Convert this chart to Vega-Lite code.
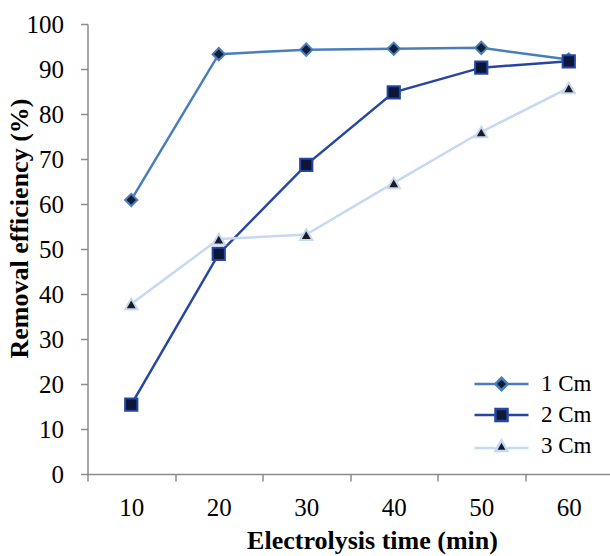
{
  "$schema": "https://vega.github.io/schema/vega-lite/v6.json",
  "width": 525,
  "height": 450,
  "autosize": {"type": "none"},
  "padding": {"left": 87.5, "top": 24, "right": 0, "bottom": 82},
  "background": "white",
  "config": {
    "view": {"stroke": null},
    "font": "Liberation Serif",
    "axis": {
      "labelFont": "Liberation Serif",
      "titleFont": "Liberation Serif",
      "labelFontSize": 25,
      "titleFontSize": 26,
      "titleFontWeight": "bold",
      "labelColor": "#000000",
      "titleColor": "#000000",
      "domainColor": "#8c8c8c",
      "tickColor": "#8c8c8c",
      "domainWidth": 1.5,
      "tickWidth": 1.5,
      "tickSize": 7,
      "grid": false
    },
    "legend": {
      "title": null,
      "orient": "none",
      "legendX": 402.5,
      "legendY": 348.5,
      "padding": 0,
      "labelFont": "Liberation Serif",
      "labelFontSize": 23,
      "labelColor": "#000000",
      "labelOffset": 28,
      "rowPadding": 7,
      "symbolSize": 100,
      "symbolFillColor": "#0e1a36",
      "symbolStrokeWidth": 2.5,
      "symbolOpacity": 1
    }
  },
  "data": {
    "values": [
      {"series": "1 Cm", "time": 10, "value": 60.9},
      {"series": "1 Cm", "time": 20, "value": 93.3},
      {"series": "1 Cm", "time": 30, "value": 94.3},
      {"series": "1 Cm", "time": 40, "value": 94.5},
      {"series": "1 Cm", "time": 50, "value": 94.7},
      {"series": "1 Cm", "time": 60, "value": 92.1},
      {"series": "2 Cm", "time": 10, "value": 15.4},
      {"series": "2 Cm", "time": 20, "value": 48.9},
      {"series": "2 Cm", "time": 30, "value": 68.7},
      {"series": "2 Cm", "time": 40, "value": 84.8},
      {"series": "2 Cm", "time": 50, "value": 90.3},
      {"series": "2 Cm", "time": 60, "value": 91.7},
      {"series": "3 Cm", "time": 10, "value": 37.8},
      {"series": "3 Cm", "time": 20, "value": 52.2},
      {"series": "3 Cm", "time": 30, "value": 53.2},
      {"series": "3 Cm", "time": 40, "value": 64.7},
      {"series": "3 Cm", "time": 50, "value": 76.0},
      {"series": "3 Cm", "time": 60, "value": 85.8}
    ]
  },
  "encoding": {
    "x": {
      "field": "time",
      "type": "ordinal",
      "scale": {"type": "band", "paddingInner": 0, "paddingOuter": 0},
      "axis": {
        "title": "Electrolysis time (min)",
        "labelFont": "Liberation Serif",
        "labelFontSize": 25,
        "labelAngle": 0,
        "tickBand": "extent",
        "labelPadding": 14,
        "titlePadding": 7,
        "titleX": 284.5
      }
    },
    "y": {
      "field": "value",
      "type": "quantitative",
      "scale": {"domain": [0, 100], "nice": false},
      "axis": {
        "title": "Removal efficiency (%)",
        "labelFont": "Liberation Serif",
        "labelFontSize": 25,
        "values": [0, 10, 20, 30, 40, 50, 60, 70, 80, 90, 100],
        "labelPadding": 17,
        "titleX": -54.8,
        "titleY": 204
      }
    }
  },
  "layer": [
    {
      "mark": {"type": "line", "strokeWidth": 2.5},
      "encoding": {
        "stroke": {
          "field": "series",
          "type": "nominal",
          "scale": {"domain": ["1 Cm", "2 Cm", "3 Cm"], "range": ["#4a7ebb", "#2646a3", "#c6d9f1"]},
          "legend": null
        }
      }
    },
    {
      "mark": {"type": "point", "filled": false, "opacity": 1, "strokeWidth": 2},
      "encoding": {
        "stroke": {
          "field": "series",
          "type": "nominal",
          "scale": {"domain": ["1 Cm", "2 Cm", "3 Cm"], "range": ["#4a7ebb", "#2646a3", "#c6d9f1"]},
          "legend": null
        },
        "shape": {
          "field": "series",
          "type": "nominal",
          "scale": {"domain": ["1 Cm", "2 Cm", "3 Cm"], "range": ["diamond", "square", "triangle-up"]},
          "legend": null
        },
        "fill": {
          "field": "series",
          "type": "nominal",
          "scale": {"domain": ["1 Cm", "2 Cm", "3 Cm"], "range": ["#0f1f3a", "#0b1638", "#1c1c28"]},
          "legend": null
        },
        "size": {
          "field": "series",
          "type": "nominal",
          "scale": {"domain": ["1 Cm", "2 Cm", "3 Cm"], "range": [150, 150, 140]},
          "legend": null
        }
      }
    },
    {
      "transform": [{"filter": "false"}],
      "mark": {"type": "point", "filled": true, "fill": "#0e1a36", "opacity": 1, "strokeWidth": 2.5},
      "encoding": {
        "stroke": {
          "field": "series",
          "type": "nominal",
          "scale": {"domain": ["1 Cm", "2 Cm", "3 Cm"], "range": ["#4a7ebb", "#2646a3", "#c6d9f1"]}
        },
        "shape": {
          "field": "series",
          "type": "nominal",
          "scale": {"domain": ["1 Cm", "2 Cm", "3 Cm"], "range": ["M-5.4,0H-1.25M1.25,0H5.4M0,-1.25L1.25,0L0,1.25L-1.25,0Z", "M-5.4,0H-1.2M1.2,0H5.4M-1.2,-1.2H1.2V1.2H-1.2Z", "M-5.4,0.4H-1.2M1.2,0.4H5.4M0,-1.1L1.2,1.0L-1.2,1.0Z"]}
        }
      }
    }
  ],
  "resolve": {
    "scale": {"stroke": "independent", "shape": "independent", "fill": "independent", "size": "independent"}
  }
}
